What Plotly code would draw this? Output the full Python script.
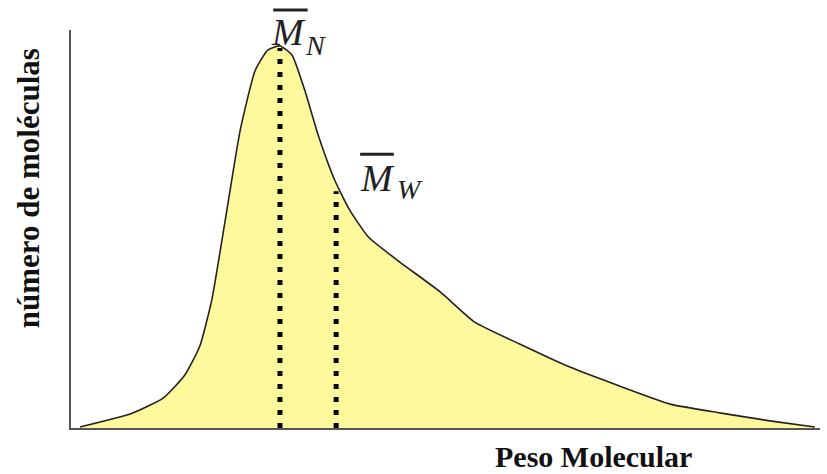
import plotly.graph_objects as go

# Molecular weight distribution curve (arbitrary units)
peso = [1.2, 7.9, 12.3, 15.2, 17.2, 18.8, 20.6, 22.6, 24.6, 26.3, 27.9, 29.5, 31.2,
        33.0, 35.2, 37.2, 39.7, 43.9, 49.3, 53.9, 59.9, 66.6, 73.3, 80.0, 86.6, 93.3, 99.3]
moleculas = [0.25, 3.5, 7.5, 13.3, 20.6, 32.2, 52.3, 74.9, 89.9, 95.0, 96.0, 93.7, 84.9,
             73.6, 62.3, 54.8, 48.0, 41.7, 34.2, 26.6, 21.1, 15.3, 10.5, 6.0, 3.8, 1.8, 0.25]

# Average molecular weights: number-average and weight-average
mn_x, mn_y = 27.9, 95.5
mw_x, mw_y = 35.4, 59.5

fig = go.Figure()
fig.add_trace(go.Scatter(
    x=peso, y=moleculas, mode="lines", fill="tozeroy",
    fillcolor="#FFF99E", line=dict(color="#222222", width=1.6, shape="spline", smoothing=0.5),
    hoverinfo="skip"))

for xv, yv in [(mn_x, mn_y), (mw_x, mw_y)]:
    fig.add_trace(go.Scatter(
        x=[xv, xv], y=[0, yv], mode="lines",
        line=dict(color="black", width=5, dash="5px,8px"), hoverinfo="skip"))

serif = "Liberation Serif, Times New Roman, serif"


def average_label(mx, my, sx, sy, sub, bar):
    # italic M with an overline bar and an italic subscript
    fig.add_annotation(x=mx, y=my, xref="paper", yref="paper", showarrow=False,
                       xanchor="center", yanchor="middle", text="<i>M</i>",
                       font=dict(family=serif, size=38, color="#222"))
    fig.add_annotation(x=sx, y=sy, xref="paper", yref="paper", showarrow=False,
                       xanchor="center", yanchor="middle", text="<i>%s</i>" % sub,
                       font=dict(family=serif, size=28, color="#222"))
    fig.add_shape(type="line", xref="paper", yref="paper",
                  x0=bar[0], x1=bar[1], y0=bar[2], y1=bar[2],
                  line=dict(color="#222", width=3))


average_label(0.291, 0.994, 0.327, 0.962, "N", (0.270, 0.316, 1.050))
average_label(0.409, 0.628, 0.452, 0.598, "W", (0.386, 0.431, 0.688))

fig.add_annotation(x=-0.057, y=0.603, xref="paper", yref="paper", showarrow=False,
                   xanchor="center", yanchor="middle", textangle=-90,
                   text="<b>número de moléculas</b>",
                   font=dict(family=serif, size=31, color="#111"))

fig.add_annotation(x=0.697, y=-0.071, xref="paper", yref="paper", showarrow=False,
                   xanchor="center", yanchor="middle",
                   text="<b>Peso Molecular</b>",
                   font=dict(family=serif, size=30, color="#111"))

fig.update_layout(
    width=827, height=474,
    margin=dict(l=71, r=7, t=30, b=46),
    paper_bgcolor="white", plot_bgcolor="white",
    showlegend=False,
    xaxis=dict(range=[0, 100], showgrid=False, zeroline=False, showticklabels=False,
               ticks="", showline=True, linecolor="#555", linewidth=2),
    yaxis=dict(range=[0, 100], showgrid=False, zeroline=False, showticklabels=False,
               ticks="", showline=True, linecolor="#555", linewidth=2),
)

fig.write_html("out.html")
